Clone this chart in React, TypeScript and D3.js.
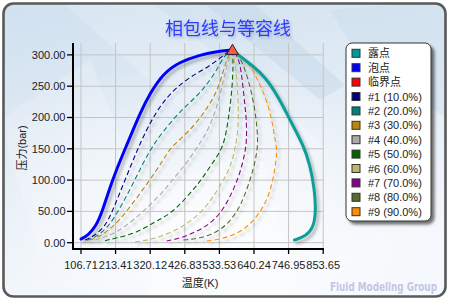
import React from "react";
import * as d3 from "d3";

const W = 449;
const H = 301;

const titleText = "相包线与等容线";
const xAxisTitle = "温度(K)";
const yAxisTitle = "压力(bar)";
const watermark = "Fluid Modeling Group";

const xTicks = [106.71, 213.41, 320.12, 426.83, 533.53, 640.24, 746.95, 853.65];
const yTicks = [0, 50, 100, 150, 200, 250, 300];

const criticalPoint: [number, number] = [573.9, 307.8];

const bubblePoints: [number, number][] = [
  [106.7, 5.9], [129.2, 12.3], [152.0, 25.6], [172.4, 49.5], [203.2, 100.2],
  [242.4, 149.7], [263.1, 174.8], [288.7, 206.7], [319.5, 238.6], [360.5, 270.6],
  [412.0, 289.1], [473.7, 299.8], [520.0, 305.1], [573.9, 307.8],
];

const dewPoints: [number, number][] = [
  [573.9, 307.8], [591.8, 299.8], [633.2, 283.9], [674.2, 265.2], [715.2, 233.2],
  [756.5, 190.7], [792.3, 156.1], [813.2, 124.1], [826.4, 86.9], [831.5, 49.5],
  [823.3, 23.0], [797.5, 9.6], [764.8, 4.3],
];

const q10: [number, number][] = [
  [119.0, 4.3], [144.6, 9.6], [180.7, 25.6], [203.2, 49.5], [242.4, 100.2],
  [281.6, 149.7], [298.9, 169.3], [329.7, 201.3], [371.0, 233.2], [422.2, 257.2],
  [463.5, 270.6], [499.3, 281.1], [535.4, 294.6], [560.1, 305.1], [573.9, 307.8],
];
const q20: [number, number][] = [
  [124.3, 3.8], [155.1, 9.6], [190.9, 25.6], [221.7, 49.5], [273.2, 100.2],
  [319.5, 149.7], [371.0, 185.3], [422.2, 214.7], [464.5, 234.3], [489.1, 249.2],
  [520.0, 270.6], [540.6, 291.8], [561.0, 305.1], [573.9, 307.8],
];
const q30: [number, number][] = [
  [134.5, 4.3], [165.3, 9.6], [206.3, 25.6], [247.6, 49.5], [319.5, 100.2],
  [360.5, 132.1], [381.2, 151.3], [422.2, 169.3], [467.6, 194.4], [495.3, 215.2],
  [523.1, 237.5], [544.6, 271.1], [557.0, 295.0], [573.9, 307.8],
];
const q40: [number, number][] = [
  [149.9, 4.3], [201.4, 12.3], [242.4, 25.6], [298.9, 49.5], [360.5, 81.5],
  [396.6, 105.4], [427.5, 124.1], [453.1, 142.8], [473.7, 159.3], [499.3, 180.0],
  [530.2, 222.7], [545.6, 259.9], [561.0, 291.8], [573.9, 307.8],
];
const q50: [number, number][] = [
  [180.7, 3.2], [211.6, 7.0], [278.5, 15.5], [335.0, 33.5], [365.8, 41.5],
  [401.9, 55.0], [442.9, 78.9], [473.7, 97.4], [504.6, 121.4], [540.6, 148.1],
  [553.4, 172.1], [563.1, 204.0], [570.8, 235.9], [575.5, 270.6], [575.5, 295.0],
  [573.9, 307.8],
];
const q60: [number, number][] = [
  [273.2, 1.1], [329.7, 5.4], [401.9, 20.3], [442.9, 33.5], [483.9, 52.2],
  [514.8, 73.5], [540.6, 94.9], [566.2, 118.8], [581.7, 148.1], [591.8, 180.0],
  [592.5, 216.8], [587.8, 259.9], [580.1, 291.8], [573.9, 307.8],
];
const q70: [number, number][] = [
  [371.0, 2.7], [412.0, 7.0], [463.5, 17.6], [514.8, 33.5], [550.8, 57.5],
  [576.4, 84.2], [597.1, 110.9], [612.5, 142.8], [617.8, 164.1], [617.1, 196.0],
  [612.5, 217.2], [602.3, 270.6], [591.8, 297.1], [573.9, 307.8],
];
const q80: [number, number][] = [
  [422.2, 4.3], [473.7, 7.0], [525.2, 16.0], [566.2, 33.5], [597.1, 57.5],
  [617.8, 84.2], [638.1, 116.1], [648.6, 142.8], [653.5, 164.1], [643.4, 217.2],
  [617.8, 270.6], [597.1, 296.6], [573.9, 307.8],
];
const q90: [number, number][] = [
  [494.4, 2.7], [535.4, 5.4], [586.9, 13.9], [627.9, 28.3], [664.0, 52.2],
  [689.6, 78.9], [705.0, 116.1], [712.1, 148.1], [705.0, 164.1], [689.6, 217.2],
  [643.4, 270.6], [615.6, 291.8], [573.9, 307.8],
];

const qualitySeries = [q10, q20, q30, q40, q50, q60, q70, q80, q90];
const qualityLabels = [
  "#1 (10.0%)", "#2 (20.0%)", "#3 (30.0%)", "#4 (40.0%)", "#5 (50.0%)",
  "#6 (60.0%)", "#7 (70.0%)", "#8 (80.0%)", "#9 (90.0%)",
];
const qualityColors = [
  "#000080", "#008080", "#b8860b", "#a9a9a9", "#006400",
  "#bdb76b", "#8b008b", "#556b2f", "#ff8c00",
];
const legendLabels = ["露点", "泡点", "临界点", ...qualityLabels];
const dewColor = "#0e9e97";
const bubbleColor = "#0000ff";
const criticalColor = "#ff0000";
const legendColors = ["#009999", bubbleColor, criticalColor, ...qualityColors];

const FONT = "'Liberation Sans', 'Noto Sans CJK SC', sans-serif";

export default function App() {
  const x = d3.scaleLinear().domain([82.04, 856.15]).range([73, 324]);
  const y = d3.scaleLinear().domain([-10.06, 319.0]).range([249, 43]);
  const line = d3
    .line<[number, number]>()
    .x((d) => x(d[0]))
    .y((d) => y(d[1]))
    .curve(d3.curveBasis);

  const plotLeft = 73;
  const plotRight = 324;
  const plotTop = 43;
  const plotBottom = 249;

  const legendX = 346;
  const legendY = 43;
  const rowStep = 14.4;
  const triangle = d3.symbol().type(d3.symbolTriangle).size(60)();

  return (
    <svg
      width={W}
      height={H}
      style={{ position: "absolute", left: 0, top: 0 }}
      xmlns="http://www.w3.org/2000/svg"
    >
      <defs>
        <linearGradient id="bg" x1="0" y1="0" x2="0.35" y2="1">
          <stop offset="0" stopColor="#cfe0ef" />
          <stop offset="0.55" stopColor="#e4edf6" />
          <stop offset="1" stopColor="#f5f8fc" />
        </linearGradient>
        <radialGradient id="glow" cx="0.45" cy="0.75" r="0.55">
          <stop offset="0" stopColor="#ffffff" stopOpacity="0.75" />
          <stop offset="1" stopColor="#ffffff" stopOpacity="0" />
        </radialGradient>
        <filter id="lineShadow" x="-10%" y="-10%" width="130%" height="130%">
          <feDropShadow dx="2.5" dy="3" stdDeviation="1.6" floodColor="#000" floodOpacity="0.28" />
        </filter>
        <filter id="boxShadow" x="-10%" y="-10%" width="130%" height="130%">
          <feDropShadow dx="3" dy="3" stdDeviation="1.5" floodColor="#000" floodOpacity="0.55" />
        </filter>
        <filter id="titleGlow" x="-20%" y="-50%" width="140%" height="200%">
          <feDropShadow dx="1.5" dy="2" stdDeviation="1.5" floodColor="#6070a0" floodOpacity="0.45" />
        </filter>
        <clipPath id="frameClip">
          <rect x={3.5} y={3.5} width={442} height={293} rx={10} />
        </clipPath>
      </defs>

      <rect x={0} y={0} width={W} height={H} fill="#ffffff" />
      <g clipPath="url(#frameClip)">
        <rect x={0} y={0} width={W} height={H} fill="url(#bg)" />
        <rect x={0} y={0} width={W} height={H} fill="url(#glow)" />
        <polygon points="60,0 150,0 330,150 260,180" fill="#ffffff" opacity={0.18} />
        <polygon points="200,0 250,0 345,85 320,100" fill="#b9d0e6" opacity={0.35} />
        <polygon points="0,120 90,60 150,210 40,260" fill="#ffffff" opacity={0.2} />
        <polygon points="330,10 449,0 449,120 360,60" fill="#c6d9ec" opacity={0.35} />
        <polygon points="120,200 260,150 300,301 150,301" fill="#ffffff" opacity={0.25} />
      </g>
      <rect x={3.5} y={3.5} width={442} height={293} rx={10} fill="none" stroke="#595959" strokeWidth={2.6} />

      <text
        x={228}
        y={35}
        textAnchor="middle"
        fontFamily={FONT}
        fontSize={18}
        fill="#2a3cff"
        filter="url(#titleGlow)"
      >
        {titleText}
      </text>

      {/* grid */}
      <g stroke="#c4c4c4" strokeWidth={1}>
        {xTicks.map((t) => (
          <line key={"gx" + t} x1={x(t)} x2={x(t)} y1={plotTop} y2={plotBottom} />
        ))}
        {yTicks.map((t) => (
          <line key={"gy" + t} x1={plotLeft} x2={plotRight} y1={y(t)} y2={y(t)} />
        ))}
      </g>

      {/* series */}
      <g filter="url(#lineShadow)" fill="none">
        {qualitySeries.map((s, i) => (
          <path
            key={"q" + i}
            d={line(s) || ""}
            stroke={qualityColors[i]}
            strokeWidth={1.1}
            strokeDasharray="5,3"
          />
        ))}
        <path d={line(bubblePoints) || ""} stroke={bubbleColor} strokeWidth={3} strokeLinecap="round" />
        <path d={line(dewPoints) || ""} stroke={dewColor} strokeWidth={3} strokeLinecap="round" />
      </g>
      <path
        d={triangle || ""}
        transform={`translate(${x(criticalPoint[0])},${y(criticalPoint[1]) + 1})`}
        fill="#ff5a4a"
        stroke="#222"
        strokeWidth={1}
      />

      {/* axes */}
      <g stroke="#000">
        <line x1={plotLeft} x2={plotLeft} y1={plotTop} y2={plotBottom + 1} strokeWidth={2} />
        <line x1={plotLeft - 1} x2={plotRight} y1={plotBottom} y2={plotBottom} strokeWidth={2} />
        {xTicks.map((t) => (
          <line key={"tx" + t} x1={x(t)} x2={x(t)} y1={plotBottom} y2={plotBottom + 5} strokeWidth={1.3} />
        ))}
        {yTicks.map((t) => (
          <line key={"ty" + t} x1={plotLeft - 6} x2={plotLeft} y1={y(t)} y2={y(t)} strokeWidth={1.3} />
        ))}
      </g>
      <g fontFamily={FONT} fontSize={11} fill="#222">
        {xTicks.map((t) => (
          <text key={"lx" + t} x={x(t)} y={269} textAnchor="middle">
            {t.toFixed(2)}
          </text>
        ))}
        {yTicks.map((t) => (
          <text key={"ly" + t} x={65.5} y={y(t) + 4} textAnchor="end">
            {t.toFixed(2)}
          </text>
        ))}
        <text x={200} y={287} textAnchor="middle">
          {xAxisTitle}
        </text>
        <text x={0} y={0} textAnchor="middle" transform="translate(26,148) rotate(-90)">
          {yAxisTitle}
        </text>
      </g>

      {/* legend */}
      <rect
        x={legendX}
        y={legendY}
        width={85}
        height={178}
        rx={6}
        fill="#ffffff"
        stroke="#333"
        strokeWidth={1}
        filter="url(#boxShadow)"
      />
      <g fontFamily={FONT} fontSize={11} fill="#222">
        {legendLabels.map((lab, i) => {
          const cy = legendY + 10.3 + i * rowStep;
          return (
            <g key={"lg" + i}>
              <rect x={legendX + 6} y={cy - 4} width={8} height={8} fill={legendColors[i]} stroke="#333" strokeWidth={1} />
              <text x={legendX + 22} y={cy + 4}>
                {lab}
              </text>
            </g>
          );
        })}
      </g>

      <text
        transform="translate(330,291) scale(1,1.2)"
        fontFamily="'DejaVu Sans Condensed', 'DejaVu Sans', sans-serif"
        fontWeight="bold"
        fontSize={10}
        fill="#c4c6e6"
        textLength={107}
        lengthAdjust="spacingAndGlyphs"
      >
        {watermark}
      </text>
    </svg>
  );
}
